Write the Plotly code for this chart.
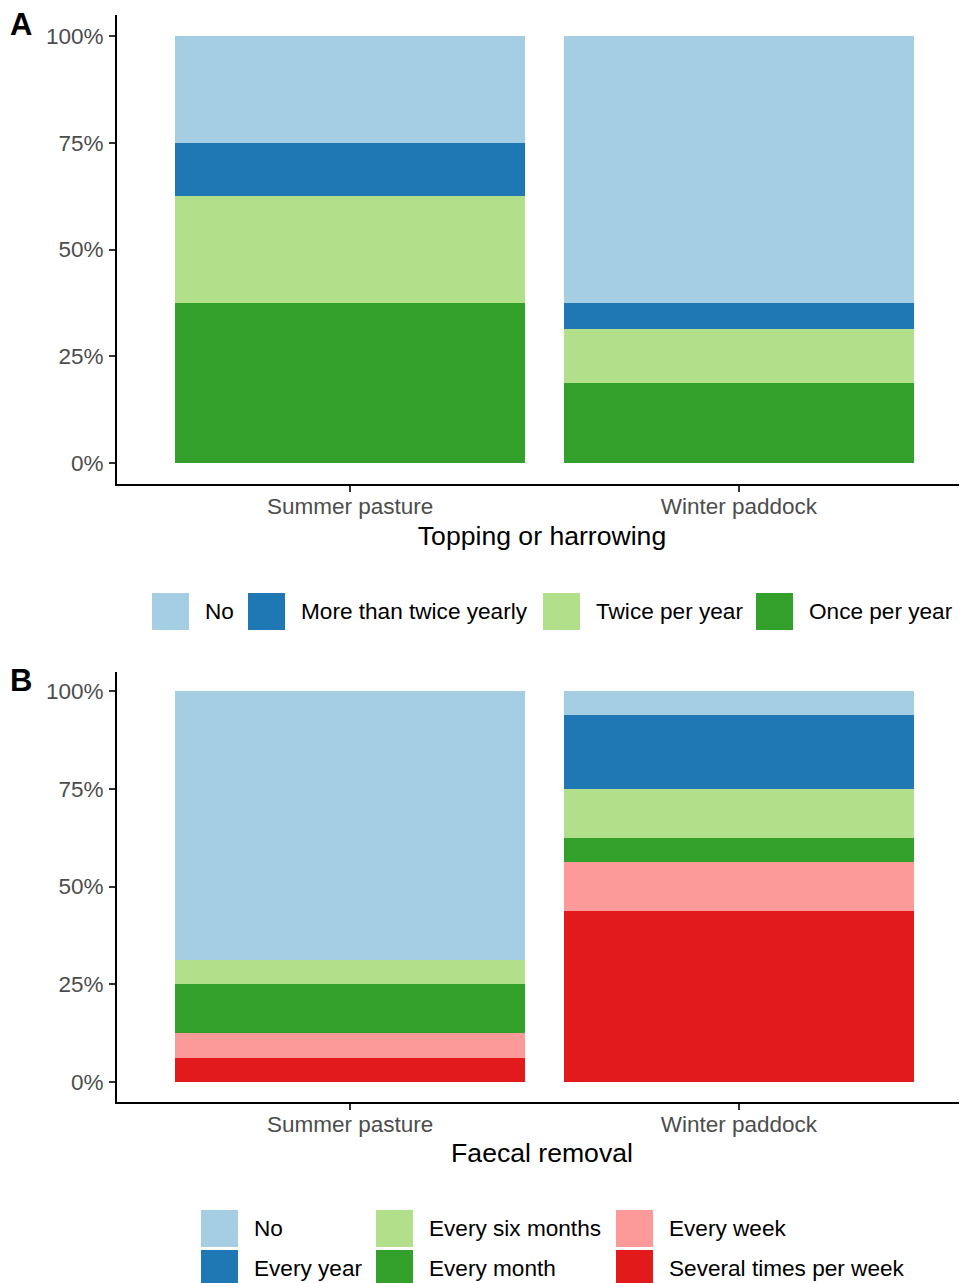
import plotly.graph_objects as go

# ---------------- data ----------------
categories = ["Summer pasture", "Winter paddock"]

topping_levels = ["No", "More than twice yearly", "Twice per year", "Once per year"]
topping_no = [0.25, 0.625]
topping_more_than_twice = [0.125, 0.0625]
topping_twice = [0.25, 0.125]
topping_once = [0.375, 0.1875]

faecal_levels = ["No", "Every year", "Every six months", "Every month",
                 "Every week", "Several times per week"]
faecal_no = [0.6875, 0.0625]
faecal_every_year = [0.0, 0.1875]
faecal_six_months = [0.0625, 0.125]
faecal_month = [0.125, 0.0625]
faecal_week = [0.0625, 0.125]
faecal_several = [0.0625, 0.4375]

y_ticks = [0, 0.25, 0.5, 0.75, 1.0]
y_ticktext = ["0%", "25%", "50%", "75%", "100%"]

palette = ["#A6CEE3", "#1F78B4", "#B2DF8A", "#33A02C", "#FB9A99", "#E31A1C"]

topping_series = [topping_no, topping_more_than_twice, topping_twice, topping_once]
faecal_series = [faecal_no, faecal_every_year, faecal_six_months, faecal_month,
                 faecal_week, faecal_several]

# ---------------- figure ----------------
OFF = 8                    # default page body margin
W, H = 967 - OFF, 1283 - OFF
ML = 117 - OFF
PLOT_W = W - ML
FONT = "Liberation Sans, Arial, sans-serif"


def px_x(p):
    """reference-picture x pixel -> paper x"""
    return (p - 117) / PLOT_W


def px_y(p):
    """reference-picture y pixel -> paper y"""
    return 1 - (p - OFF) / H


fig = go.Figure()

# stack: last level at the bottom (ggplot order)
for lvl, vals, col in reversed(list(zip(topping_levels, topping_series, palette))):
    fig.add_trace(go.Bar(x=categories, y=vals, name=lvl, marker_color=col,
                         marker_line_width=0, width=0.9, xaxis="x", yaxis="y",
                         showlegend=False))
for lvl, vals, col in reversed(list(zip(faecal_levels, faecal_series, palette))):
    fig.add_trace(go.Bar(x=categories, y=vals, name=lvl, marker_color=col,
                         marker_line_width=0, width=0.9, xaxis="x2", yaxis="y2",
                         showlegend=False))

axis_common = dict(showline=True, linecolor="black", linewidth=2,
                   ticks="outside", ticklen=6, tickwidth=2, tickcolor="#333333",
                   showgrid=False, zeroline=False,
                   tickfont=dict(family=FONT, size=22.5, color="#4D4D4D"))

xrange = [-0.6, 1.587]
yrange = [-0.05, 1.05]
title_font = dict(family=FONT, size=26.6, color="black")

fig.update_layout(
    width=W, height=H,
    margin=dict(l=ML, r=0, t=0, b=0),
    plot_bgcolor="white", paper_bgcolor="white",
    barmode="stack", bargap=0.1,
    font=dict(family=FONT, color="black"),
    xaxis=dict(axis_common, domain=[0, 1], anchor="y", range=xrange,
               ticklabelstandoff=-5,
               title=dict(text="Topping or harrowing", font=title_font, standoff=8)),
    yaxis=dict(axis_common, domain=[px_y(484), px_y(15)], anchor="x",
               range=yrange, tickvals=y_ticks, ticktext=y_ticktext,
               ticklabelstandoff=1),
    xaxis2=dict(axis_common, domain=[0, 1], anchor="y2", range=xrange,
                ticklabelstandoff=-5,
                title=dict(text="Faecal removal", font=title_font, standoff=8)),
    yaxis2=dict(axis_common, domain=[px_y(1101.5), px_y(671.5)], anchor="x2",
                range=yrange, tickvals=y_ticks, ticktext=y_ticktext,
                ticklabelstandoff=1),
)

# panel tags
fig.add_annotation(text="<b>A</b>", x=px_x(8), y=px_y(5), xref="paper", yref="paper",
                   xanchor="left", yanchor="top", showarrow=False,
                   font=dict(family=FONT, size=31, color="black"))
fig.add_annotation(text="<b>B</b>", x=px_x(8), y=px_y(661), xref="paper", yref="paper",
                   xanchor="left", yanchor="top", showarrow=False,
                   font=dict(family=FONT, size=31, color="black"))

# ---------------- custom legends (large keys as in the reference) ----------------
KEY = 37
LEG_FONT = dict(family=FONT, size=22.6, color="black")


def add_key(x0, ytop, color, label, text_x, yc):
    fig.add_shape(type="rect", xref="paper", yref="paper",
                  x0=px_x(x0), x1=px_x(x0 + KEY), y0=px_y(ytop + KEY), y1=px_y(ytop),
                  fillcolor=color, line_width=0, layer="above")
    fig.add_annotation(text=label, x=px_x(text_x), y=px_y(yc), xref="paper", yref="paper",
                       xanchor="left", yanchor="middle", showarrow=False,
                       font=LEG_FONT)


legend_a_keys = [152, 248, 543, 756]
for i, lvl in enumerate(topping_levels):
    add_key(legend_a_keys[i], 593, palette[i], lvl, legend_a_keys[i] + 51, 611)

legend_b_cols = [201, 376, 616]
legend_b_rows = [1210, 1250]
for i, lvl in enumerate(faecal_levels):
    c, r = divmod(i, 2)
    add_key(legend_b_cols[c], legend_b_rows[r], palette[i], lvl,
            legend_b_cols[c] + 51, legend_b_rows[r] + 18.5)

fig.write_html(
    "out.html",
    post_script="document.documentElement.style.overflow='hidden';"
                "document.body.style.overflow='hidden';",
)
